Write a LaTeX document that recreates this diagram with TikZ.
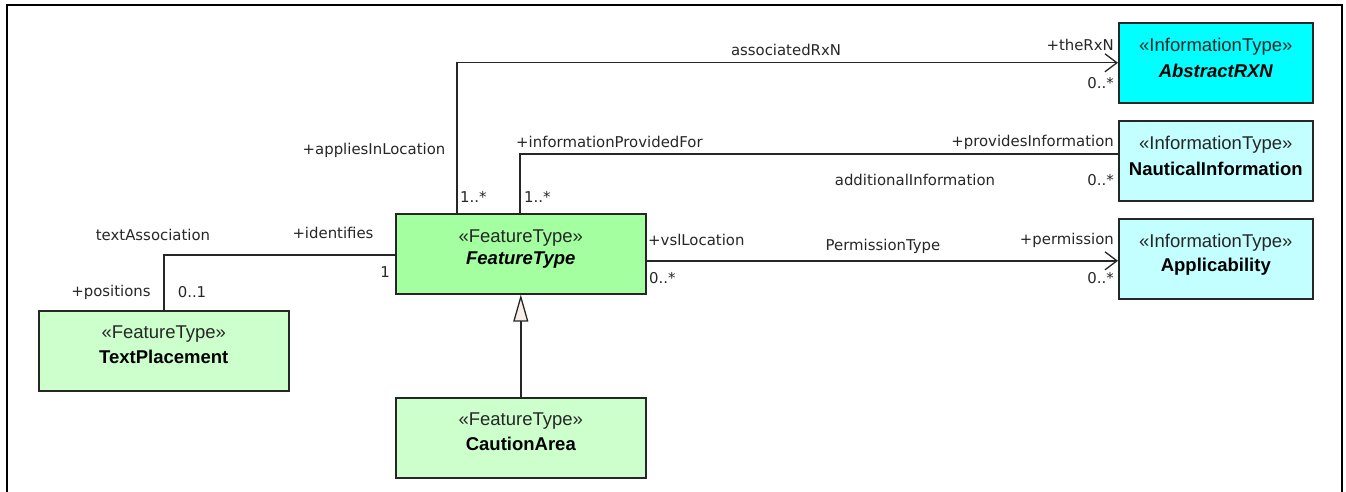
\documentclass[tikz,border=0pt]{standalone}
\usepackage{fontspec}
\setmainfont{Liberation Sans}
\newfontfamily\lblfont{DejaVu Sans}
\usetikzlibrary{arrows.meta}
\definecolor{rxncol}{HTML}{00FFFF}
\definecolor{infocol}{HTML}{C4FFFF}
\definecolor{ftcol}{HTML}{A3FFA0}
\definecolor{ftlight}{HTML}{CCFFCC}
\definecolor{linecol}{HTML}{262626}
\definecolor{gencol}{HTML}{F7EFE6}
\tikzset{
  umlbox/.style={draw=linecol, line width=1.6pt, minimum width=250pt, minimum height=80pt, anchor=north west, inner sep=0pt},
  infobox/.style={umlbox, minimum width=194pt},
  stereo/.style={font=\fontsize{18.5}{20}\selectfont, inner sep=0pt, text=black!85},
  cname/.style={font=\fontsize{18.5}{20}\selectfont\bfseries, inner sep=0pt},
  cnameit/.style={font=\fontsize{18.5}{20}\selectfont\bfseries\itshape, inner sep=0pt},
  lbl/.style={font=\lblfont\fontsize{14.9}{17}\selectfont, inner sep=0pt, text=black!85},
  conn/.style={draw=linecol, line width=1.4pt},
  navarrow/.style={-{Straight Barb[length=12pt,width=18pt,line width=1.3pt]}},
  genarrow/.style={-{Triangle[open,length=27pt,width=15pt,line width=1.3pt,fill=gencol]}}
}
\begin{document}
\begin{tikzpicture}[x=1pt,y=-1pt]
\useasboundingbox (0,0) rectangle (1346,492);
% frame
\draw[line width=2.5pt] (7,492) -- (7,4.5);
\draw[line width=1.5pt] (6,5) -- (1342,5);
\draw[line width=2pt] (1342,4.5) -- (1342,492);
% boxes
\node[infobox, fill=rxncol] (rxn) at (1118,22) {};
\node[infobox, fill=infocol] (naut) at (1118,120) {};
\node[infobox, fill=infocol] (appl) at (1118,218) {};
\node[umlbox, fill=ftcol] (ft) at (395,213) {};
\node[umlbox, fill=ftlight] (tp) at (38,310) {};
\node[umlbox, fill=ftlight] (ca) at (395,397) {};
% box texts
\node[stereo] (rxns) at ([yshift=-25pt]rxn.north) {«InformationType»};
\node[cnameit] (rxnn) at ([yshift=-49pt]rxn.north) {AbstractRXN};
\node[stereo] (nauts) at ([yshift=-25pt]naut.north) {«InformationType»};
\node[cname] (nautn) at ([yshift=-49pt]naut.north) {NauticalInformation};
\node[stereo] (appls) at ([yshift=-25pt]appl.north) {«InformationType»};
\node[cname] (appln) at ([yshift=-49pt]appl.north) {Applicability};
\node[stereo] (fts) at ([yshift=-25pt]ft.north) {«FeatureType»};
\node[cnameit] (ftn) at ([yshift=-47pt]ft.north) {FeatureType};
\node[stereo] (tps) at ([yshift=-24pt]tp.north) {«FeatureType»};
\node[cname] (tpn) at ([yshift=-47pt]tp.north) {TextPlacement};
\node[stereo] (cas) at ([yshift=-24pt]ca.north) {«FeatureType»};
\node[cname] (can) at ([yshift=-47pt]ca.north) {CautionArea};
% connectors
\draw[conn, navarrow] ([xshift=62pt]ft.north west) |- (rxn.west);
\draw[conn] ([xshift=125pt]ft.north west) |- ([yshift=7pt]naut.west);
\draw[conn, navarrow] ([yshift=-7pt]ft.east) -- ([yshift=-7pt]ft.east -| appl.west);
\draw[conn] ([yshift=-1pt]ft.west) -| (tp.north);
\draw[conn, genarrow] (ca.north) -- (ft.south);
% labels
\node[lbl] (l1) at (786,50) {associatedRxN};
\node[lbl, anchor=east] (l2) at (1114,45) {+theRxN};
\node[lbl, anchor=east] (l3) at (1114,83) {0..*};
\node[lbl] (l4) at (374,150) {+appliesInLocation};
\node[lbl, anchor=west] (l5) at (460,197) {1..*};
\node[lbl, anchor=west] (l6) at (516,142) {+informationProvidedFor};
\node[lbl, anchor=west] (l7) at (524,197) {1..*};
\node[lbl, anchor=east] (l8) at (1114,142) {+providesInformation};
\node[lbl] (l9) at (915,180) {additionalInformation};
\node[lbl, anchor=east] (l10) at (1114,180) {0..*};
\node[lbl, anchor=west] (l11) at (648,240) {+vslLocation};
\node[lbl, anchor=west] (l12) at (649,278) {0..*};
\node[lbl] (l13) at (883,246) {PermissionType};
\node[lbl, anchor=east] (l14) at (1114,240) {+permission};
\node[lbl, anchor=east] (l15) at (1114,278) {0..*};
\node[lbl] (l16) at (153,235) {textAssociation};
\node[lbl] (l17) at (333,233) {+identifies};
\node[lbl] (l18) at (385,272) {1};
\node[lbl] (l19) at (111,292) {+positions};
\node[lbl] (l20) at (192,292) {0..1};
\end{tikzpicture}
\end{document}
